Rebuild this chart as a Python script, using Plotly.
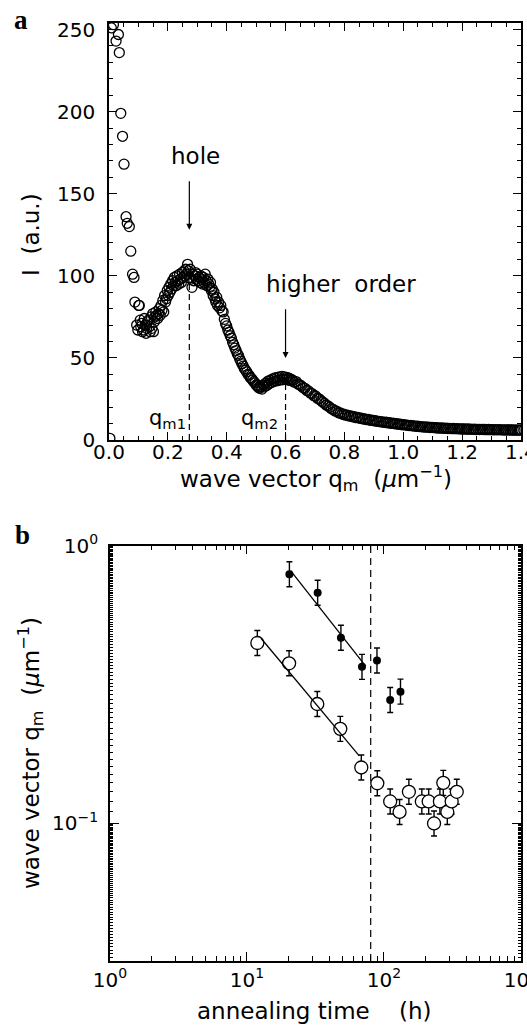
import plotly.graph_objects as go

# ---------------- panel a : scattered intensity ----------------
q_peak = [0.003, 0.008, 0.015, 0.024, 0.032, 0.035, 0.040, 0.046, 0.051, 0.058,
          0.062, 0.069, 0.074, 0.080, 0.085, 0.088, 0.101]
I_peak = [1, 251, 253, 243, 247, 236, 199, 185, 168, 136,
          132, 130, 115, 101, 99, 84, 82]

q_hole = [0.094, 0.098, 0.103, 0.106, 0.108, 0.111, 0.114, 0.117, 0.120, 0.123,
          0.126, 0.128, 0.131, 0.134, 0.137, 0.140, 0.143, 0.146, 0.149, 0.151,
          0.154, 0.156, 0.159, 0.162, 0.165, 0.168, 0.171, 0.174, 0.177, 0.180,
          0.183, 0.186, 0.189, 0.192, 0.195, 0.198, 0.201, 0.204, 0.207, 0.210,
          0.213, 0.216, 0.219, 0.222, 0.225, 0.228, 0.231, 0.234, 0.237, 0.240,
          0.243, 0.246, 0.249, 0.252, 0.255, 0.258, 0.261, 0.264, 0.267, 0.270,
          0.273, 0.276, 0.279, 0.282, 0.285, 0.288, 0.291, 0.294, 0.297, 0.300,
          0.303, 0.306, 0.309, 0.312, 0.315, 0.318, 0.321, 0.324, 0.327, 0.330,
          0.333, 0.336, 0.339, 0.342, 0.345, 0.348, 0.351, 0.354, 0.357, 0.360,
          0.363, 0.366, 0.369]
I_hole = [70, 67, 82, 73, 69, 71, 66, 67, 74, 70,
          65, 68, 72, 73, 69, 66, 75, 68, 77, 66,
          72, 75, 78, 76, 74, 77, 80, 76, 82, 79,
          85, 78, 88, 84, 86, 91, 88, 93, 90, 95,
          92, 97, 94, 99, 96, 94, 100, 97, 95, 101,
          98, 96, 102, 99, 103, 100, 104, 101, 107, 103,
          99, 104, 98, 93, 101, 97, 100, 102, 98, 101,
          97, 99, 96, 100, 98, 95, 99, 96, 101, 97,
          94, 98, 95, 93, 96, 91, 92, 88, 90, 86,
          84, 87, 82]

q_second = [0.372, 0.376, 0.380, 0.384, 0.388, 0.392, 0.396, 0.400, 0.404, 0.408,
            0.412, 0.416, 0.420, 0.424, 0.428, 0.432, 0.436, 0.440, 0.444, 0.448,
            0.452, 0.456, 0.460, 0.464, 0.468, 0.472, 0.476, 0.480, 0.484, 0.488,
            0.492, 0.496, 0.500, 0.504, 0.508, 0.512, 0.516, 0.520, 0.524, 0.528,
            0.532, 0.536, 0.540, 0.544, 0.548, 0.552, 0.556, 0.560, 0.564, 0.568,
            0.572, 0.576, 0.580, 0.584, 0.588, 0.592, 0.596, 0.600, 0.604, 0.608,
            0.612, 0.616, 0.620]
I_second = [84.0, 80.5, 82.0, 78.5, 78.0, 73.5, 71.0, 69.5, 67.0, 65.5,
            63.5, 62.0, 59.5, 58.0, 56.0, 54.5, 52.5, 51.5, 49.5, 48.0,
            46.5, 45.0, 43.5, 42.5, 41.5, 40.0, 39.5, 38.0, 37.5, 36.5,
            35.5, 34.8, 33.5, 33.0, 32.0, 31.5, 32.5, 31.0, 33.5, 32.4,
            34.5, 33.2, 35.8, 34.2, 36.4, 35.0, 37.2, 35.6, 37.8, 36.0,
            38.2, 36.4, 38.4, 36.6, 38.8, 36.8, 38.4, 37.0, 38.2, 36.6,
            37.6, 36.2, 36.9]

q_tail = [0.624, 0.630, 0.636, 0.642, 0.648, 0.654, 0.660, 0.666, 0.672, 0.678,
          0.684, 0.690, 0.696, 0.702, 0.708, 0.714, 0.720, 0.726, 0.732, 0.738,
          0.744, 0.750, 0.756, 0.762, 0.768, 0.774, 0.780, 0.786, 0.792, 0.798,
          0.804, 0.810, 0.816, 0.822, 0.828, 0.834, 0.840, 0.846, 0.852, 0.858,
          0.864, 0.870, 0.876, 0.882, 0.888, 0.894, 0.900, 0.906, 0.912, 0.918,
          0.924, 0.930, 0.936, 0.942, 0.948, 0.954, 0.960, 0.966, 0.972, 0.978,
          0.984, 0.990, 0.996, 1.002, 1.008, 1.014, 1.020, 1.026, 1.032, 1.038,
          1.044, 1.050, 1.056, 1.062, 1.068, 1.074, 1.080, 1.086, 1.092, 1.098,
          1.104, 1.110, 1.116, 1.122, 1.128, 1.134, 1.140, 1.146, 1.152, 1.158,
          1.164, 1.170, 1.176, 1.182, 1.188, 1.194, 1.200, 1.206, 1.212, 1.218,
          1.224, 1.230, 1.236, 1.242, 1.248, 1.254, 1.260, 1.266, 1.272, 1.278,
          1.284, 1.290, 1.296, 1.302, 1.308, 1.314, 1.320, 1.326, 1.332, 1.338,
          1.344, 1.350, 1.356, 1.362, 1.368, 1.374, 1.380, 1.386, 1.392, 1.398]
I_tail = [36.4, 35.2, 35.6, 34.1, 33.6, 32.9, 31.8, 31.5, 30.2, 29.9,
          28.6, 28.3, 27.0, 26.8, 25.4, 25.1, 24.0, 23.2, 22.4, 21.3,
          20.8, 19.9, 19.0, 18.6, 17.7, 17.5, 16.6, 16.5, 15.8, 15.7,
          15.1, 15.2, 14.6, 14.7, 14.1, 14.2, 13.6, 13.8, 13.2, 13.3,
          12.8, 12.9, 12.4, 12.5, 12.0, 12.1, 11.7, 11.8, 11.3, 11.4,
          11.0, 11.1, 10.7, 10.8, 10.4, 10.5, 10.1, 10.2, 9.9, 9.9,
          9.6, 9.7, 9.3, 9.4, 9.1, 9.1, 8.8, 8.9, 8.6, 8.6,
          8.3, 8.4, 8.1, 8.2, 7.9, 8.0, 7.8, 7.8, 7.6, 7.7,
          7.5, 7.5, 7.3, 7.4, 7.2, 7.3, 7.1, 7.2, 7.0, 7.1,
          6.9, 7.0, 6.9, 6.9, 6.8, 6.8, 6.7, 6.8, 6.6, 6.7,
          6.6, 6.6, 6.5, 6.6, 6.4, 6.5, 6.4, 6.5, 6.4, 6.4,
          6.3, 6.4, 6.3, 6.3, 6.2, 6.3, 6.2, 6.3, 6.2, 6.2,
          6.1, 6.2, 6.1, 6.2, 6.1, 6.1, 6.0, 6.1, 6.0, 6.1]

q_a = q_peak + q_hole + q_second + q_tail
I_a = I_peak + I_hole + I_second + I_tail

# marked positions in panel a
qm1, qm1_top = 0.273, 95
qm2, qm2_top = 0.600, 35
hole_arrow = (158.5, 128)      # tail, head intensity
higher_arrow = (80.5, 50)

# ---------------- panel b : wave vector vs annealing time ----------------
t_open = [11.9, 20.3, 32.6, 48.0, 68.3, 89.4, 111, 130, 152, 189,
          212, 232, 256, 271, 290, 312, 340]
q_open = [0.446, 0.377, 0.269, 0.219, 0.159, 0.1395, 0.120, 0.110, 0.130, 0.120,
          0.120, 0.100, 0.120, 0.140, 0.110, 0.120, 0.130]
t_filled = [20.4, 32.8, 48.5, 69.1, 88.9, 111, 132]
q_filled = [0.788, 0.676, 0.466, 0.366, 0.386, 0.278, 0.298]

fit_open_t = [12.65, 66.0]
fit_open_q = [0.464, 0.175]
fit_filled_t = [20.8, 73.5]
fit_filled_q = [0.812, 0.368]

t_cross = 80
log_err = 0.045   # half-width of error bars in decades

FONT = "DejaVu Sans"


def err_plus(vals):
    return [v * (10 ** log_err - 1) for v in vals]


def err_minus(vals):
    return [v * (1 - 10 ** -log_err) for v in vals]


fig = go.Figure()

# ---- panel a traces ----
fig.add_trace(go.Scatter(x=[qm1, qm1], y=[0, qm1_top], mode="lines",
                         line=dict(color="black", width=1.2, dash="6px,4px"),
                         xaxis="x", yaxis="y", showlegend=False))
fig.add_trace(go.Scatter(x=[qm2, qm2], y=[0, qm2_top], mode="lines",
                         line=dict(color="black", width=1.2, dash="6px,4px"),
                         xaxis="x", yaxis="y", showlegend=False))
fig.add_trace(go.Scatter(x=q_a, y=I_a, mode="markers",
                         marker=dict(symbol="circle-open", size=10, color="black",
                                     line=dict(width=1.3, color="black")),
                         xaxis="x", yaxis="y", showlegend=False, cliponaxis=True))

# ---- panel b traces ----
fig.add_trace(go.Scatter(x=[t_cross, t_cross], y=[0.032, 1.0], mode="lines",
                         line=dict(color="black", width=1.2, dash="7px,5px"),
                         xaxis="x2", yaxis="y2", showlegend=False))
fig.add_trace(go.Scatter(x=t_open, y=q_open, mode="markers",
                         marker=dict(symbol="circle", size=13, color="white",
                                     line=dict(width=1.3, color="black")),
                         error_y=dict(type="data", symmetric=False,
                                      array=err_plus(q_open), arrayminus=err_minus(q_open),
                                      width=3, thickness=1.4, color="black"),
                         xaxis="x2", yaxis="y2", showlegend=False))
fig.add_trace(go.Scatter(x=t_filled, y=q_filled, mode="markers",
                         marker=dict(symbol="circle", size=8, color="black"),
                         error_y=dict(type="data", symmetric=False,
                                      array=err_plus(q_filled), arrayminus=err_minus(q_filled),
                                      width=3, thickness=1.4, color="black"),
                         xaxis="x2", yaxis="y2", showlegend=False))
fig.add_trace(go.Scatter(x=fit_open_t, y=fit_open_q, mode="lines",
                         line=dict(color="black", width=1.3),
                         xaxis="x2", yaxis="y2", showlegend=False))
fig.add_trace(go.Scatter(x=fit_filled_t, y=fit_filled_q, mode="lines",
                         line=dict(color="black", width=1.3),
                         xaxis="x2", yaxis="y2", showlegend=False))

W, H = 527, 1026
axis_common = dict(showline=True, linecolor="black", linewidth=1.6, mirror="ticks",
                   ticks="inside", tickcolor="black", tickwidth=1.2, showgrid=False,
                   zeroline=False, automargin=False, ticklabeloverflow="allow",
                   tickfont=dict(family=FONT, size=20, color="black"))

y_minor_vals = [k / 1000 for k in range(32, 100)] + [k / 100 for k in range(10, 100)]
x_minor_vals = [m * 10 ** d for d in range(0, 3) for m in range(2, 10)]

fig.update_layout(
    template="none",
    width=W, height=H, autosize=False,
    margin=dict(l=0, r=0, t=0, b=0, pad=0),
    paper_bgcolor="white", plot_bgcolor="white",
    font=dict(family=FONT, color="black"),
    xaxis=dict(axis_common, domain=[109 / W, 521 / W], range=[0, 1.4002],
               tickvals=[0, 0.2, 0.4, 0.6, 0.8, 1.0, 1.2, 1.4],
               ticktext=["0.0", "0.2", "0.4", "0.6", "0.8", "1.0", "1.2", "1.4"],
               ticklen=8, anchor="y", ticklabelstandoff=-7,
               minor=dict(dtick=0.05, ticks="inside", ticklen=4, tickcolor="black", tickwidth=1)),
    yaxis=dict(axis_common, domain=[1 - 440 / H, 1 - 23 / H], range=[0, 254],
               tickvals=[0, 50, 100, 150, 200, 250], ticklen=8, anchor="x",
               ticklabelstandoff=8,
               minor=dict(dtick=10, ticks="inside", ticklen=4, tickcolor="black", tickwidth=1)),
    xaxis2=dict(axis_common, type="log", domain=[110 / W, 521 / W], range=[0, 3.0003],
                tickvals=[1, 10, 100, 1000],
                ticktext=["10<sup>0</sup>", "10<sup>1</sup>", "10<sup>2</sup>", "10<sup>3</sup>"],
                ticklen=9, anchor="y2", ticklabelstandoff=0,
                minor=dict(tickmode="array", tickvals=x_minor_vals, ticks="inside",
                           ticklen=5, tickcolor="black", tickwidth=1)),
    yaxis2=dict(axis_common, type="log", domain=[1 - 961 / H, 1 - 545.5 / H],
                range=[-1.495, 0.0002], tickvals=[0.1, 1],
                ticktext=["10<sup>\u22121</sup>", "10<sup>0</sup>"],
                ticklen=9, anchor="x2", ticklabelstandoff=6,
                minor=dict(tickmode="array", tickvals=y_minor_vals, ticks="inside",
                           ticklen=3, tickcolor="black", tickwidth=0.8)),
)

ann = []
tf = dict(family=FONT, size=23, color="black")
tq = dict(family=FONT, size=21, color="black")
C = dict(xanchor="center", yanchor="middle", showarrow=False)
# panel labels
ann.append(dict(C, text="<b>a</b>", x=21 / W, y=1 - 20 / H, xref="paper", yref="paper",
                font=dict(family="Liberation Serif", size=27, color="black")))
ann.append(dict(C, text="<b>b</b>", x=22 / W, y=1 - 535 / H, xref="paper", yref="paper",
                font=dict(family="Liberation Serif", size=27, color="black")))
# axis titles
ann.append(dict(C, text="I  (a.u.)", x=31 / W, y=1 - 235 / H, xref="paper", yref="paper",
                textangle=-90, font=tf))
ann.append(dict(C, text="wave vector q<sub>m</sub>  (<i>\u03bc</i>m<sup>\u22121</sup>)",
                x=316 / W, y=1 - 479 / H, xref="paper", yref="paper", font=tf))
ann.append(dict(C, text="wave vector q<sub>m</sub>  (<i>\u03bc</i>m<sup>\u22121</sup>)",
                x=30 / W, y=1 - 753 / H, xref="paper", yref="paper", textangle=-90,
                font=tf))
ann.append(dict(C, text="annealing time    (h)", x=314 / W, y=1 - 1011 / H,
                xref="paper", yref="paper", font=tf))
# panel a annotations
ann.append(dict(C, text="hole", x=0.295, y=173, xref="x", yref="y", font=tf))
ann.append(dict(text="", x=qm1, y=hole_arrow[1], ax=qm1, ay=hole_arrow[0],
                xref="x", yref="y", axref="x", ayref="y", showarrow=True,
                arrowhead=2, arrowsize=1, arrowwidth=1.2, arrowcolor="black"))
ann.append(dict(C, text="higher  order", x=0.79, y=95, xref="x", yref="y", font=tf))
ann.append(dict(text="", x=qm2, y=higher_arrow[1], ax=qm2, ay=higher_arrow[0],
                xref="x", yref="y", axref="x", ayref="y", showarrow=True,
                arrowhead=2, arrowsize=1, arrowwidth=1.2, arrowcolor="black"))
ann.append(dict(C, text="q<sub>m1</sub>", x=0.200, y=13, xref="x", yref="y", font=tq))
ann.append(dict(C, text="q<sub>m2</sub>", x=0.510, y=13, xref="x", yref="y", font=tq))

fig.update_layout(annotations=ann)

fig.write_html("out.html", config={"displayModeBar": False},
               post_script="document.body.style.margin='0';document.body.style.overflow='hidden';")
